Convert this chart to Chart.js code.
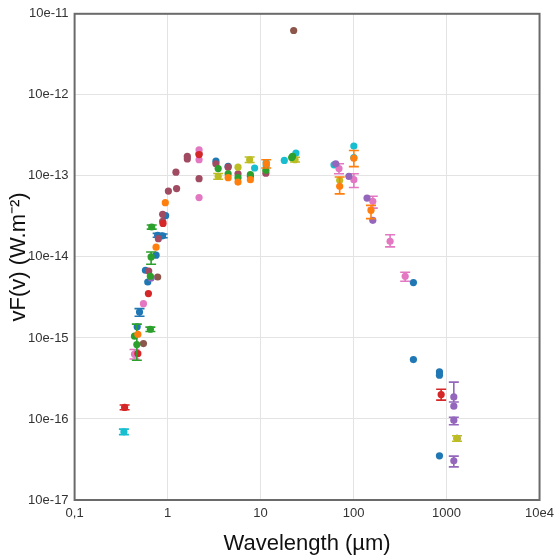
<!DOCTYPE html>
<html lang="en">
<head>
    <meta charset="UTF-8">
    <title>SED</title>
    <script src="https://cdn.jsdelivr.net/npm/chart.js"></script>
    <style>
        body { margin: 0; background: #fff; }
        canvas { display: block; }
    </style>
</head>
<body>
<canvas id="sed" width="560" height="557"></canvas>

<script>
    // ticks
    const wavelengthTicks = [0.1, 1, 10, 100, 1000, 10000];
    const wavelengthLabels = ['0,1', '1', '10', '100', '1000', '10e4'];
    const fluxTicks = [1e-17, 1e-16, 1e-15, 1e-14, 1e-13, 1e-12, 1e-11];
    const fluxLabels = ['10e-17', '10e-16', '10e-15', '10e-14', '10e-13', '10e-12', '10e-11'];

    // photometry: [wavelength (um), flux, low, high]
    const blue = [
        [0.952, 3.23e-14], [0.782, 1.85e-14, 1.75e-14, 1.95e-14], [0.885, 1.82e-14, 1.72e-14, 1.92e-14],
        [0.752, 1.05e-14], [0.578, 6.84e-15], [0.612, 4.90e-15], [0.499, 2.09e-15, 1.85e-15, 2.3e-15],
        [0.471, 1.37e-15], [3.31, 1.52e-13], [4.48, 1.31e-13], [440, 4.82e-15], [440, 5.4e-16],
        [839, 3.81e-16], [839, 3.47e-16], [839, 3.51e-17]
    ];
    const orange = [
        [0.945, 4.67e-14], [0.752, 1.32e-14], [0.479, 1.11e-15], [4.48, 9.50e-14], [5.72, 8.39e-14],
        [7.77, 8.97e-14], [11.5, 1.41e-13, 1.25e-13, 1.58e-13], [70.9, 7.43e-14, 6.0e-14, 9.7e-14],
        [100.7, 1.65e-13, 1.3e-13, 2.06e-13], [154, 3.76e-14, 2.97e-14, 4.32e-14]
    ];
    const green = [
        [0.675, 2.34e-14, 2.2e-14, 2.48e-14], [0.665, 9.98e-15, 8.1e-15, 1.15e-14], [0.653, 5.77e-15],
        [0.653, 1.28e-15, 1.2e-15, 1.36e-15], [0.441, 1.05e-15], [0.467, 8.29e-16, 5.3e-16, 1.48e-15],
        [3.50, 1.23e-13], [4.48, 1.06e-13], [5.72, 9.50e-14], [7.77, 1.04e-13], [11.4, 1.17e-13],
        [22.1, 1.74e-13], [21.6, 1.68e-13]
    ];
    const red = [
        [0.893, 2.59e-14], [0.622, 3.53e-15], [0.479, 6.42e-16], [0.345, 1.39e-16, 1.3e-16, 1.49e-16],
        [2.18, 1.83e-13], [875, 2.00e-16, 1.71e-16, 2.33e-16]
    ];
    const purple = [
        [0.665, 5.49e-15], [64.3, 1.41e-13], [89.1, 9.86e-14], [139.6, 5.32e-14], [161, 2.83e-14],
        [1197, 1.87e-16, 1.62e-16, 2.85e-16], [1197, 1.44e-16], [1197, 9.66e-17, 8.5e-17, 1.05e-16],
        [1197, 3.04e-17, 2.56e-17, 3.48e-17]
    ];
    const brown = [
        [22.7, 6.22e-12], [0.782, 5.65e-15], [0.550, 8.53e-16]
    ];
    const pink = [
        [2.18, 2.10e-13], [2.18, 1.58e-13], [2.18, 5.39e-14], [0.550, 2.65e-15],
        [0.441, 6.30e-16, 5.5e-16, 7.2e-16], [69.7, 1.23e-13, 1.06e-13, 1.41e-13],
        [100.7, 8.97e-14, 7.2e-14, 1.06e-13], [161, 4.85e-14, 4.0e-14, 5.6e-14],
        [247, 1.56e-14, 1.33e-14, 1.88e-14], [359, 5.77e-15, 5.0e-15, 6.46e-15]
    ];
    const cyan = [
        [0.339, 6.93e-17, 6.4e-17, 7.5e-17], [8.63, 1.25e-13], [11.5, 1.46e-13], [11.5, 1.33e-13],
        [18.0, 1.55e-13], [24.0, 1.91e-13], [61.6, 1.37e-13], [100.7, 2.33e-13], [100.7, 1.68e-13]
    ];
    const olive = [
        [3.50, 9.86e-14, 9.1e-14, 1.07e-13], [5.72, 1.28e-13], [7.63, 1.58e-13, 1.46e-13, 1.71e-13],
        [23.5, 1.58e-13, 1.48e-13, 1.7e-13], [70.9, 8.80e-14], [1297, 5.75e-17, 5.3e-17, 6.2e-17]
    ];
    const maroon = [
        [1.02, 6.50e-14], [1.25, 6.96e-14], [1.23, 1.11e-13], [1.63, 1.74e-13], [1.63, 1.62e-13],
        [2.18, 1.88e-13], [2.18, 9.23e-14], [0.885, 3.35e-14], [0.885, 2.75e-14], [0.796, 1.68e-14],
        [0.627, 6.70e-15], [3.31, 1.41e-13], [4.48, 1.28e-13], [5.72, 1.06e-13], [7.77, 9.86e-14],
        [11.4, 1.08e-13], [1297, 5.75e-17]
    ];

    const series = [
        [orange, '#ff7f0e'], [green, '#2ca02c'], [red, '#d62728'], [purple, '#9467bd'],
        [brown, '#8c564b'], [pink, '#e377c2'], [olive, '#bcbd22'], [maroon, '#a04b62'],
        [blue, '#1f77b4'], [cyan, '#17becf']
    ];

    const FONT = "'Liberation Sans', Arial, sans-serif";

    // vertical error bars with caps, drawn just under each dataset's points
    const errorBars = {
        id: 'errorBars',
        beforeDatasetDraw(chart, args) {
            const ds = chart.data.datasets[args.index];
            const xs = chart.scales.x, ys = chart.scales.y;
            const ctx = chart.ctx;
            ctx.save();
            ctx.strokeStyle = ds.borderColor;
            ctx.lineWidth = 1.6;
            ds.data.forEach(p => {
                if (p.lo == null) return;
                const px = xs.getPixelForValue(p.x);
                const top = ys.getPixelForValue(p.hi);
                const bot = ys.getPixelForValue(p.lo);
                ctx.beginPath();
                ctx.moveTo(px, top); ctx.lineTo(px, bot);
                ctx.moveTo(px - 5, top); ctx.lineTo(px + 5, top);
                ctx.moveTo(px - 5, bot); ctx.lineTo(px + 5, bot);
                ctx.stroke();
            });
            ctx.restore();
        }
    };

    const frame = {
        id: 'frame',
        beforeDatasetsDraw(chart) {
            const a = chart.chartArea;
            const ctx = chart.ctx;
            ctx.save();
            ctx.strokeStyle = '#6a6a6a';
            ctx.lineWidth = 2;
            ctx.strokeRect(a.left, a.top, a.right - a.left, a.bottom - a.top);
            ctx.restore();
        }
    };

    new Chart(document.getElementById('sed'), {
        type: 'scatter',
        data: {
            datasets: series.map(([pts, color]) => ({
                data: pts.map(p => ({x: p[0], y: p[1], lo: p[2], hi: p[3]})),
                backgroundColor: color,
                borderColor: color,
                borderWidth: 0,
                pointRadius: 3.6
            }))
        },
        options: {
            responsive: false,
            animation: false,
            layout: { padding: { top: 13, right: 17, left: 0, bottom: 0 } },
            plugins: { legend: { display: false }, tooltip: { enabled: false } },
            scales: {
                x: {
                    type: 'logarithmic',
                    min: 0.1, max: 10000,
                    afterBuildTicks: s => { s.ticks = wavelengthTicks.map(v => ({value: v})); },
                    afterFit: s => { s.height = 57; },
                    grid: { color: '#e3e3e3', drawTicks: false },
                    border: { display: false },
                    ticks: {
                        autoSkip: false, maxRotation: 0, padding: 6,
                        color: '#333', font: { family: FONT, size: 13 },
                        callback: (v, i) => wavelengthLabels[i]
                    },
                    title: {
                        display: true, text: 'Wavelength (µm)', color: '#111',
                        font: { family: FONT, size: 22 }, padding: 0
                    }
                },
                y: {
                    type: 'logarithmic',
                    min: 1e-17, max: 1e-11,
                    afterBuildTicks: s => { s.ticks = fluxTicks.map(v => ({value: v})); },
                    afterFit: s => { s.width = 74.6; },
                    grid: { color: '#e3e3e3', drawTicks: false },
                    border: { display: false },
                    ticks: {
                        padding: 6,
                        color: '#333', font: { family: FONT, size: 13 },
                        callback: (v, i) => fluxLabels[i]
                    },
                    title: {
                        display: true, text: 'vF(v) (W.m⁻²)', color: '#111',
                        font: { family: FONT, size: 22 }, padding: { top: 6, bottom: 0 }
                    }
                }
            }
        },
        plugins: [errorBars, frame]
    });
</script>
</body>
</html>
